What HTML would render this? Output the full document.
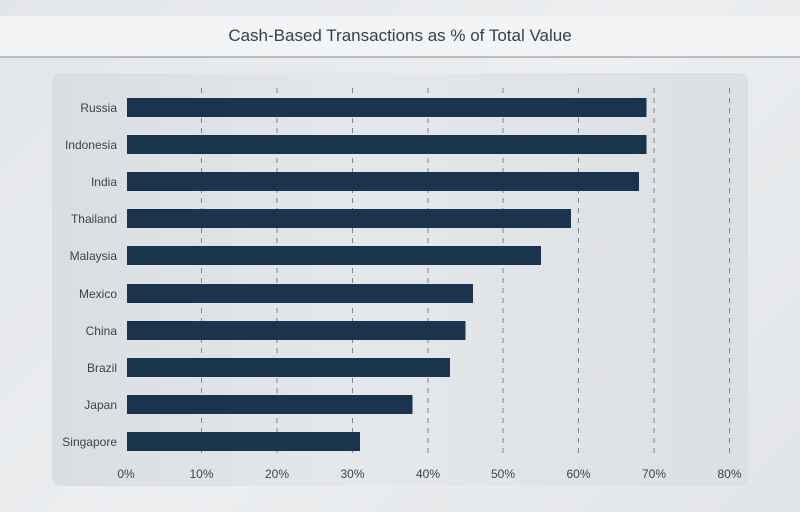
<!DOCTYPE html>
<html><head><meta charset="utf-8"><style>
html,body{margin:0;padding:0}
body{width:800px;height:512px;overflow:hidden;background:linear-gradient(135deg,#e3e6e9 0%,#eceef0 50%,#e2e5e8 100%);font-family:"Liberation Sans",sans-serif;position:relative}
.title{position:absolute;left:0;top:16px;width:800px;height:40px;background:#f3f4f5;border-bottom:2px solid #b9bdc1;text-align:center;line-height:40px;font-size:17px;color:#34404c}
.panel{position:absolute;left:52px;top:73px;width:696px;height:413px;border-radius:9px;background:linear-gradient(90deg,#dadde1 0%,#e5e8eb 45%,#dcdfe3 100%)}
</style></head><body>
<div class="title">Cash-Based Transactions as % of Total Value</div>
<div class="panel"></div>
<svg width="800" height="512" style="position:absolute;left:0;top:0" font-family="Liberation Sans, sans-serif">
<g stroke="#80868c" stroke-width="1" stroke-dasharray="5,5">
<line x1="201.5" y1="88" x2="201.5" y2="458"/>
<line x1="277" y1="88" x2="277" y2="458"/>
<line x1="352.5" y1="88" x2="352.5" y2="458"/>
<line x1="428" y1="88" x2="428" y2="458"/>
<line x1="503" y1="88" x2="503" y2="458"/>
<line x1="578.5" y1="88" x2="578.5" y2="458"/>
<line x1="654" y1="88" x2="654" y2="458"/>
<line x1="729.5" y1="88" x2="729.5" y2="458"/>
</g>
<g fill="#1b344e">
<rect x="127" y="98" width="519.5" height="19"/>
<rect x="127" y="135" width="519.5" height="19"/>
<rect x="127" y="172" width="512" height="19"/>
<rect x="127" y="209" width="444" height="19"/>
<rect x="127" y="246" width="414" height="19"/>
<rect x="127" y="284" width="346" height="19"/>
<rect x="127" y="321" width="338.5" height="19"/>
<rect x="127" y="358" width="323" height="19"/>
<rect x="127" y="395" width="285.5" height="19"/>
<rect x="127" y="432" width="233" height="19"/>
</g>
<g fill="#3a4550" font-size="12" text-anchor="end">
<text x="117" y="112">Russia</text>
<text x="117" y="149">Indonesia</text>
<text x="117" y="186">India</text>
<text x="117" y="223">Thailand</text>
<text x="117" y="260">Malaysia</text>
<text x="117" y="298">Mexico</text>
<text x="117" y="335">China</text>
<text x="117" y="372">Brazil</text>
<text x="117" y="409">Japan</text>
<text x="117" y="446">Singapore</text>
</g>
<g fill="#3a4550" font-size="12" text-anchor="middle">
<text x="126" y="478">0%</text>
<text x="201.5" y="478">10%</text>
<text x="277" y="478">20%</text>
<text x="352.5" y="478">30%</text>
<text x="428" y="478">40%</text>
<text x="503" y="478">50%</text>
<text x="578.5" y="478">60%</text>
<text x="654" y="478">70%</text>
<text x="729.5" y="478">80%</text>
</g>
</svg>
</body></html>
